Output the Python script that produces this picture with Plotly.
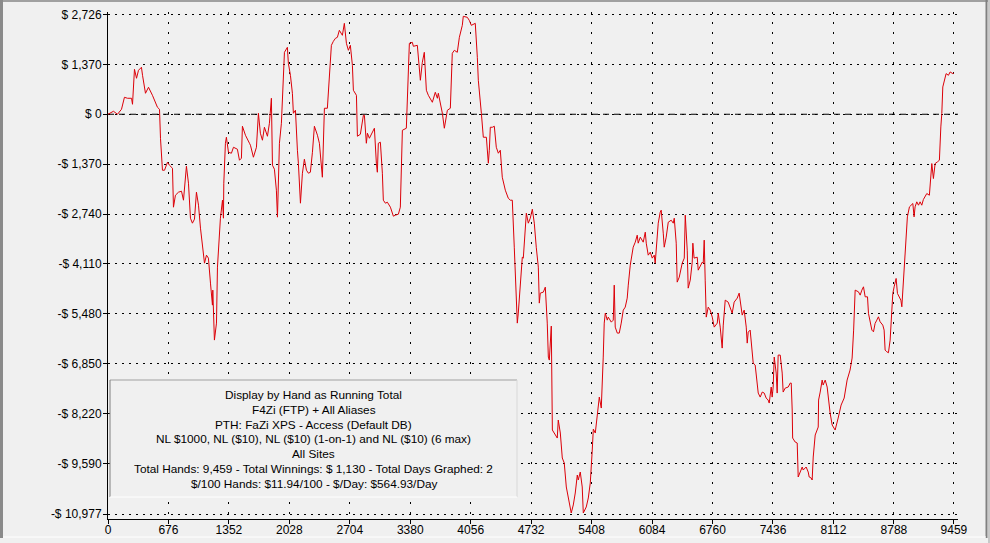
import plotly.graph_objects as go

# running total (hand number, $ won)
hands_a = [0, 61, 106, 151, 184, 218, 263, 274, 296, 319, 341, 374, 386, 419, 453, 497, 553, 576, 587, 609,
           632, 665, 687, 721, 732, 754, 788, 822, 844, 877, 900, 922, 944, 967, 989, 1012, 1034, 1056, 1079, 1101,
           1123, 1146, 1168, 1172, 1190, 1213, 1224, 1257, 1280, 1291, 1295, 1313, 1324, 1347, 1380, 1403, 1447, 1470, 1492, 1503,
           1537, 1582]
won_a = [0, 82, 0, 137, 466, 439, 439, 274, 1235, 988, 1207, 1290, 1070, 576, 741, 521, 192, 137, -659, -1537,
         -1537, -1317, -1399, -1482, -2552, -2223, -2140, -2113, -2360, -1427, -1893, -2854, -2991, -2881, -2140, -2497, -3128, -3677, -4089, -3869,
         -3951, -4637, -5241, -4829, -6201, -5735, -4198, -2854, -2360, -2854, -1893, -796, -631, -1043, -1070, -906, -960, -1262, -1207, -329,
         -576, -796]

hands_b = [1593, 1626, 1660, 1682, 1704, 1727, 1749, 1783, 1805, 1827, 1839, 1861, 1883, 1895, 1917, 1939, 1962, 1973, 2006, 2017,
           2040, 2062, 2073, 2096, 2118, 2129, 2152, 2174, 2196, 2219, 2241, 2263, 2286, 2308, 2342, 2364, 2397, 2409, 2420, 2453,
           2476, 2498, 2520, 2543, 2565, 2587, 2621, 2643, 2666, 2688, 2710, 2733, 2744, 2778, 2789, 2822, 2856, 2867, 2889, 2901,
           2923, 2956, 2979, 3001, 3012, 3023, 3046, 3068, 3079, 3102, 3124, 3158, 3191, 3213]
won_b = [-851, -1180, -906, 27, -521, -713, -357, -604, -247, 439, -1399, -1509, -2085, -2826, -796, -247, 1125, 1701, 1838, 1399,
         1070, 576, 27, 110, -988, -1345, -2442, -1619, -1235, -1537, -1619, -1592, -1043, -329, -576, -796, -1729, -988, 165, 165,
         1015, 1893, 2003, 2085, 2113, 2305, 2168, 2497, 1948, 1756, 1893, 1345, 659, 521, -604, -549, -27, -27, -796, -521,
         -659, -494, -384, -1345, -1592, -796, -768, -1619, -2360, -2442, -2415, -2552, -2799, -2771]

hands_c = [3247, 3269, 3292, 3336, 3359, 3370, 3403, 3415, 3459, 3470, 3493, 3515, 3537, 3560, 3582, 3627, 3660, 3683, 3694, 3739,
           3761, 3795, 3828, 3850, 3873, 3906, 3929, 3962, 3973, 4018, 4040, 4063, 4107, 4130, 4141, 4175, 4197, 4231, 4253, 4264,
           4275, 4298, 4320, 4342, 4365, 4387, 4409, 4443, 4476, 4499, 4521, 4543, 4566, 4577, 4588, 4611, 4633, 4644, 4678, 4700,
           4722, 4745, 4767, 4789, 4812, 4823, 4834]
won_c = [-2744, -2552, -439, -384, 1015, 1948, 1976, 1866, 1893, 1482, 933, 1427, 1701, 659, 521, 329, 604, 439, 576, 27,
         -384, 110, 165, 1674, 1756, 1701, 2113, 2442, 2689, 2662, 2579, 2442, 2497, 1564, 933, 27, -631, -631, -1345, -988,
         -357, -357, -329, -906, -1070, -988, -1729, -2085, -2305, -2360, -2360, -3650, -4912, -5735, -5461, -4747, -3924, -3951, -2717, -2991,
         -2854, -2607, -2991, -3650, -4198, -5186, -4912]

hands_d = [4868, 4890, 4912, 4924, 4935, 4957, 4969, 4991, 5024, 5035, 5058, 5080, 5102, 5125, 5147, 5180, 5203, 5225, 5248, 5259,
           5281, 5303, 5315, 5348, 5371, 5393, 5415, 5427, 5449, 5471, 5494, 5516, 5527, 5538, 5549, 5561, 5583, 5594, 5628, 5650,
           5661, 5672, 5695, 5717, 5739, 5762, 5784, 5806, 5818, 5840, 5873, 5896, 5918, 5929, 5952, 5985, 6008, 6019, 6041, 6064,
           6086, 6108, 6119, 6142, 6153, 6175, 6186, 6209, 6220, 6242, 6265, 6298, 6321, 6332, 6354, 6365, 6388, 6421, 6444]
won_d = [-4884, -4747, -5735, -6668, -6750, -5817, -8671, -8753, -8891, -8397, -8753, -9439, -9577, -10235, -10510, -10949, -10729, -10400, -9906, -10043,
         -9824, -10235, -10949, -10784, -10537, -10125, -9220, -8644, -8753, -8205, -7766, -8067, -6942, -6668, -5735, -5461, -5653, -5570, -5708, -5653,
         -4692, -5845, -6009, -6009, -5735, -5378, -5296, -5049, -4692, -4143, -3650, -3512, -3320, -3540, -3375, -3512, -3238, -3540, -3869, -3787,
         -3951, -3869, -4089, -3183, -2991, -2689, -2634, -3265, -3650, -3375, -2964, -2909, -2991, -2854, -3540, -4610, -4473, -4089, -3951]

hands_e = [6455, 6477, 6488, 6511, 6533, 6540, 6554, 6589, 6600, 6623, 6645, 6656, 6667, 6678, 6690, 6712, 6734, 6757, 6779, 6813,
           6824, 6846, 6857, 6868, 6880, 6902, 6935, 6958, 6980, 7002, 7036, 7058, 7081, 7092, 7114, 7137, 7148, 7159, 7181, 7193,
           7204, 7215, 7237, 7260, 7271, 7293, 7316, 7338, 7360, 7382, 7394, 7416, 7427, 7438, 7450, 7472, 7483, 7494, 7517, 7539,
           7550, 7573, 7606, 7629, 7640, 7651, 7656, 7684, 7707, 7718, 7740, 7763, 7774, 7807, 7830, 7841, 7863, 7874, 7886, 7908,
           7942, 7946, 7964, 7986, 7997, 8020, 8042, 8053, 8075]
won_e = [-2771, -3732, -4775, -4555, -4061, -3540, -3951, -3924, -4281, -4143, -4061, -4089, -3457, -4555, -5570, -5296, -5378, -5570, -5845, -5735,
         -5461, -5845, -6119, -6421, -5790, -5104, -5159, -5296, -5461, -5159, -5049, -4912, -5296, -5515, -5378, -5845, -6284, -5982, -5927, -6201,
         -6394, -6833, -6887, -7491, -7656, -7766, -7628, -7656, -7793, -7848, -7930, -7491, -7766, -7491, -6668, -7107, -7656, -6613, -6613, -7107,
         -7628, -7519, -7491, -7381, -7381, -8122, -8891, -9000, -9028, -9961, -9824, -9686, -9769, -9686, -9824, -9961, -9988, -10043, -9412, -8808,
         -8589, -7848, -7628, -7299, -7436, -7299, -7491, -7766, -8205]

hands_f = [8098, 8131, 8165, 8198, 8232, 8265, 8298, 8321, 8338, 8355, 8392, 8411, 8430, 8448, 8467, 8493, 8504, 8522, 8542,
           8560, 8578, 8597, 8615, 8634, 8664, 8679, 8690, 8709, 8727, 8746, 8765, 8776, 8791, 8813, 8828, 8847, 8866, 8877, 8895,
           8914, 8925, 8939, 8962, 8977, 9000, 9014, 9025, 9044, 9063, 9081, 9100, 9118, 9137, 9156, 9185, 9201, 9212, 9230, 9249,
           9275, 9297, 9313, 9324, 9335, 9350, 9372, 9398, 9417, 9447, 9459]
won_f = [-8534, -8671, -8342, -7985, -7793, -7299, -7025, -6695, -5927, -4829, -4876, -4967, -4829, -4738, -5013, -5013, -5469, -5653, -5927,
         -5974, -5743, -5653, -5562, -5699, -5790, -5927, -6476, -6522, -6549, -6201, -5469, -4921, -4738, -4509, -4921, -5013, -5104, -5287, -4555,
         -4006, -3457, -2817, -2543, -2497, -2451, -2817, -2543, -2405, -2497, -2405, -2497, -2341, -2268, -2177, -2223, -1720, -1354, -1765, -1354,
         -1308, -1262, -348, 19, 750, 933, 1116, 1070, 1162, 1116, 1130]

hands = hands_a + hands_b + hands_c + hands_d + hands_e + hands_f
winnings = won_a + won_b + won_c + won_d + won_e + won_f
assert len(hands) == len(winnings)

x_ticks = [0, 676, 1352, 2028, 2704, 3380, 4056, 4732, 5408, 6084, 6760, 7436, 8112, 8788, 9459]
y_ticks = [2726, 1370, 0, -1370, -2740, -4110, -5480, -6850, -8220, -9590, -10977]
y_labels = ["$ 2,726", "$ 1,370", "$ 0", "-$ 1,370", "-$ 2,740", "-$ 4,110", "-$ 5,480",
            "-$ 6,850", "-$ 8,220", "-$ 9,590", "-$ 10,977"]

info_lines = [
    "Display by Hand as Running Total",
    "F4Zi (FTP) + All Aliases",
    "PTH: FaZi XPS - Access (Default DB)",
    "NL $1000, NL ($10), NL ($10) (1-on-1) and NL ($10) (6 max)",
    "All Sites",
    "Total Hands: 9,459 - Total Winnings: $ 1,130 - Total Days Graphed: 2",
    "$/100 Hands: $11.94/100 - $/Day: $564.93/Day",
]

W, H = 990, 543
ML, MR, MT, MB = 108, 32, 12, 24
BG = "#F0F0F0"
FONT = "Liberation Sans, Arial, sans-serif"


# pixel -> paper helpers for the frame / legend box decorations
def px(x):
    return (x - ML) / (W - ML - MR)


def py(y):
    return (H - MB - y) / (H - MT - MB)


fig = go.Figure()
fig.add_trace(go.Scatter(x=hands, y=winnings, mode="lines",
                         line=dict(color="#DC0008", width=1), hoverinfo="skip"))

shapes = []
# dashed break-even line
shapes.append(dict(type="line", xref="paper", yref="y", x0=0, x1=1, y0=0, y1=0,
                   line=dict(color="black", width=1, dash="6px,5px"), layer="below"))


def pline(x0, y0, x1, y1, color, width=1):
    shapes.append(dict(type="line", xref="paper", yref="paper",
                       x0=px(x0), y0=py(y0), x1=px(x1), y1=py(y1),
                       line=dict(color=color, width=width)))


# info box (sunken panel)
shapes.append(dict(type="rect", xref="paper", yref="paper",
                   x0=px(110), x1=px(517), y0=py(497), y1=py(380),
                   fillcolor=BG, line=dict(width=0)))
pline(110, 380, 517, 380, "#A0A0A0")
pline(110, 380, 110, 497, "#808080")
pline(517, 380, 517, 497, "#D8D8D8")
pline(110, 497, 517, 497, "#FFFFFF")

# window frame
pline(0, 1, 990, 1, "#A0A0A0", 2)
pline(1.5, 0, 1.5, 538, "#8A8A8A", 3)
pline(986.5, 0, 986.5, 538, "#808080", 2)
pline(989, 0, 989, 543, "#C8C8C8", 2)
pline(3, 537, 986, 537, "#FFFFFF", 1)

annotations = []
for i, txt in enumerate(info_lines):
    annotations.append(dict(text=txt, xref="paper", yref="paper",
                            x=px(313.5), y=py(395 + i * 14.8),
                            xanchor="center", yanchor="middle", showarrow=False,
                            font=dict(family=FONT, size=11.8, color="black")))

fig.update_layout(
    width=W, height=H,
    margin=dict(l=ML, r=MR, t=MT, b=MB, autoexpand=False),
    paper_bgcolor=BG, plot_bgcolor=BG,
    showlegend=False,
    font=dict(family=FONT, size=12, color="black"),
    shapes=shapes,
    annotations=annotations,
)
fig.update_xaxes(range=[0, 9505], tickvals=x_ticks, ticktext=[str(t) for t in x_ticks],
                 showline=True, linecolor="black", linewidth=1,
                 ticks="outside", ticklen=4, tickcolor="black", ticklabelstandoff=-4,
                 showgrid=True, gridcolor="black", gridwidth=1, griddash="2px,8px",
                 zeroline=False, fixedrange=True, automargin=False)
fig.update_yaxes(range=[-11114, 2808], tickvals=y_ticks, ticktext=y_labels,
                 showline=True, linecolor="black", linewidth=1,
                 ticks="outside", ticklen=4, tickcolor="black", ticklabelstandoff=-1,
                 showgrid=True, gridcolor="black", gridwidth=1, griddash="2px,5px",
                 zeroline=False, fixedrange=True, automargin=False)

# drop the default page margin so the figure sits at the window's top-left corner
fig.write_html("out.html", config={"displayModeBar": False},
               post_script="document.body.style.margin='0px';document.body.style.overflow='hidden';")
